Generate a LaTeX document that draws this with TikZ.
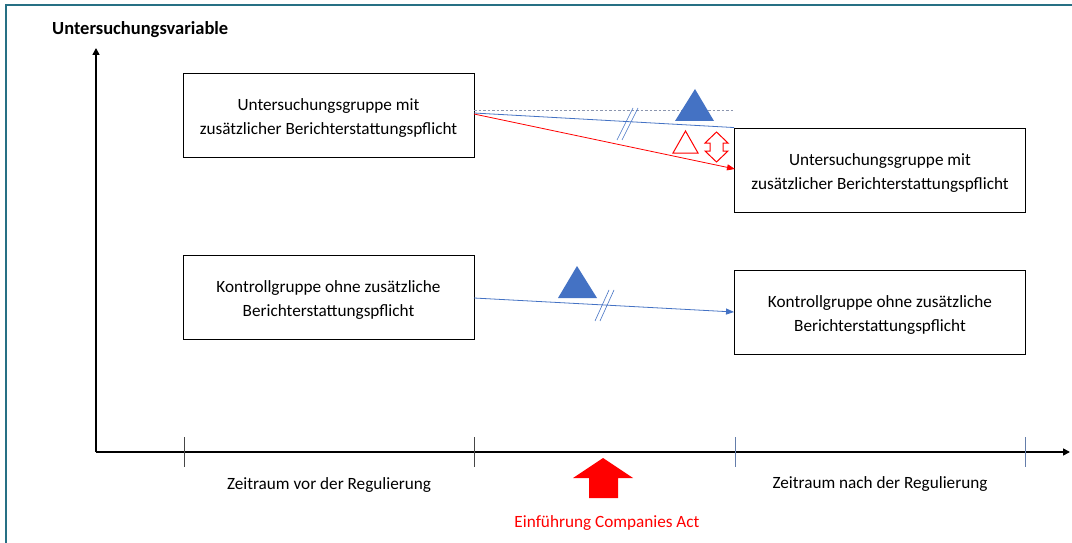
\documentclass[tikz,border=0pt]{standalone}
\usepackage{fontspec}
\setmainfont{Carlito}
\usetikzlibrary{arrows.meta}
\definecolor{frame}{RGB}{38,112,132}
\definecolor{myblue}{RGB}{68,114,196}
\definecolor{dashc}{RGB}{140,150,175}
\definecolor{tickgray}{RGB}{70,70,70}
\definecolor{tickblue}{RGB}{100,125,170}
\newcommand{\toppad}{\rule{0pt}{18.5pt}}
\tikzset{
  box/.style={draw=black, line width=0.9pt, minimum width=291pt, minimum height=84pt, align=center, font=\fontsize{17.2}{24}\selectfont, inner sep=0pt},
  lbl/.style={font=\fontsize{17.2}{20}\selectfont, inner sep=0pt},
  axis/.style={line width=1.6pt, -{Triangle[length=7pt,width=7pt]}},
  bline/.style={myblue, line width=0.8pt},
  brk/.style={myblue, line width=0.6pt},
}
\begin{document}
\begin{tikzpicture}[x=1pt,y=-1pt]
\useasboundingbox (0,0) rectangle (1072,543);
\fill[white] (0,0) rectangle (1072,543);
\draw[frame, line width=2pt] (6,543) -- (6,5) -- (1072,5);

% axes
\coordinate (o) at (96,452);
\coordinate (ytop) at (96,48);
\coordinate (xend) at (1070,452);
\draw[axis] (o) -- (ytop);
\draw[axis] (o) -- (xend);
\node[font=\bfseries\fontsize{18.5}{22}\selectfont, anchor=west, inner sep=0pt] (yl) at (52,29.5) {Untersuchungsvariable};

% ticks
\draw[tickgray, line width=0.6pt] (184,437) -- (184,467);
\draw[tickgray, line width=0.6pt] (474,437) -- (474,467);
\draw[tickblue, line width=0.6pt] (735,437) -- (735,467);
\draw[tickblue, line width=0.6pt] (1025,437) -- (1025,467);

% boxes
\node[box] (b1) at (328.5,115) {\toppad Untersuchungsgruppe mit\\zusätzlicher Berichterstattungspflicht};
\node[box] (b2) at (880,170) {\toppad Untersuchungsgruppe mit\\zusätzlicher Berichterstattungspflicht};
\node[box] (b3) at (328.5,297) {\toppad Kontrollgruppe ohne zusätzliche\\Berichterstattungspflicht};
\node[box] (b4) at (880,312) {\toppad Kontrollgruppe ohne zusätzliche\\Berichterstattungspflicht};

% upper connectors
\coordinate (d1) at (474,110);
\coordinate (d2) at (733,110);
\draw[dashc, line width=0.8pt, dash pattern=on 2.5pt off 2pt] (d1) -- (d2);
\coordinate (s1) at (474,113);
\coordinate (s1r) at (474,114);
\draw[bline] (s1) -- (b2.north west);
\draw[red, line width=0.8pt, -{Triangle[length=8pt,width=6pt]}] (s1r) -- (735,169);
\draw[brk] (617,140) -- (633,108);
\draw[brk] (622,140) -- (638,108);

% triangles upper
\fill[myblue] (675,121) -- (695,89) -- (714,121) -- cycle;
\draw[red, line width=1pt] (673,153) -- (685.5,131) -- (698,153) -- cycle;
\draw[red, line width=1pt] (716.5,132) -- (728,143) -- (723,143) -- (723,151) -- (728,151) -- (716.5,162) -- (705,151) -- (710,151) -- (710,143) -- (705,143) -- cycle;

% lower connector
\coordinate (s3) at (474,298);
\draw[bline, -{Triangle[length=8pt,width=6pt]}] (s3) -- (b4.west);
\draw[brk] (595,321) -- (609,290);
\draw[brk] (600,321) -- (614,290);
\fill[myblue] (558,298) -- (577,266) -- (597,298) -- cycle;

% labels
\node[lbl] (z1) at (329,485) {Zeitraum vor der Regulierung};
\node[lbl] (z2) at (880,484) {Zeitraum nach der Regulierung};
\node[lbl, text=red] (ein) at (607,523) {Einführung Companies Act};

% big red arrow
\fill[red] (603,458) -- (633,478) -- (618,478) -- (618,498) -- (589,498) -- (589,478) -- (573,478) -- cycle;
\end{tikzpicture}
\end{document}
